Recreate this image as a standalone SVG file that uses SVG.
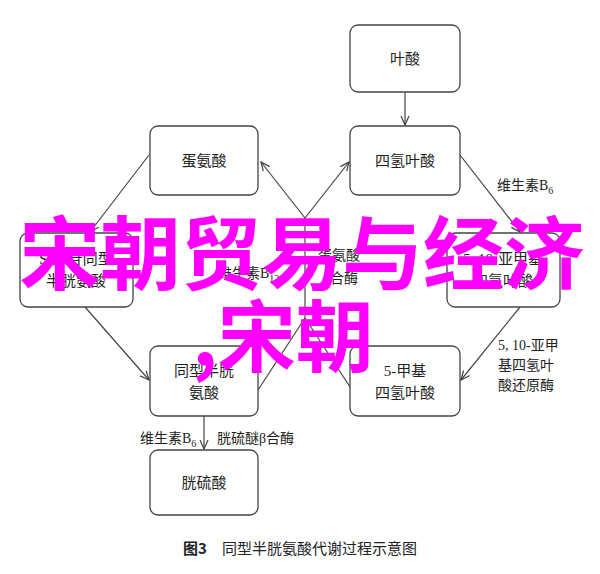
<svg xmlns="http://www.w3.org/2000/svg" width="600" height="574" viewBox="0 0 600 574">
<style>
.b{fill:#fff;stroke:#444;stroke-width:1.3}
.t{font-family:"Liberation Serif","Noto Sans CJK SC",serif;font-size:15px;fill:#222;text-anchor:middle}
.l{font-family:"Liberation Serif","Noto Sans CJK SC",serif;font-size:14px;fill:#222}
.c line,.c path{stroke:#444;stroke-width:1.2;fill:none}
.o{font-family:"Noto Sans CJK SC",sans-serif;font-weight:bold;fill:#ff00ff}
</style>
<defs><marker id="a" markerWidth="10" markerHeight="10" refX="9" refY="5" orient="auto" markerUnits="userSpaceOnUse"><path d="M0,1 L9,5 L0,9" fill="none" stroke="#444" stroke-width="1.2"/></marker></defs>
<rect width="600" height="574" fill="#fff"/>
<g class="c">
<line x1="405" y1="92" x2="405" y2="125" marker-end="url(#a)"/>
<line x1="460" y1="155" x2="520" y2="232" marker-end="url(#a)"/>
<line x1="520" y1="307" x2="461" y2="380" marker-end="url(#a)"/>
<line x1="149" y1="155" x2="90" y2="232" marker-end="url(#a)"/>
<line x1="85" y1="307" x2="149" y2="380" marker-end="url(#a)"/>
<line x1="204" y1="416" x2="204" y2="449" marker-end="url(#a)"/>
<line x1="305" y1="318" x2="305" y2="218"/>
<line x1="305" y1="218" x2="261" y2="162" marker-end="url(#a)"/>
<line x1="305" y1="218" x2="349" y2="162" marker-end="url(#a)"/>
<line x1="258" y1="390" x2="305" y2="318"/>
<line x1="352" y1="390" x2="305" y2="318"/>
</g>
<g id="n1"><rect class="b" x="350" y="25" width="110" height="67" rx="8"/><text class="t" x="405" y="64">叶酸</text></g>
<g id="n2"><rect class="b" x="150" y="126" width="108" height="69" rx="8"/><text class="t" x="204" y="166">蛋氨酸</text></g>
<g id="n3"><rect class="b" x="350" y="126" width="110" height="69" rx="8"/><text class="t" x="405" y="166">四氢叶酸</text></g>
<g id="n4"><rect class="b" x="20" y="233" width="113" height="74" rx="8"/><text class="t" x="76" y="264">S-腺苷同型</text><text class="t" x="76" y="286">半胱氨酸</text></g>
<g id="n5"><rect class="b" x="447" y="233" width="113" height="74" rx="8"/><text class="t" x="503" y="264">5, 10-亚甲基</text><text class="t" x="503" y="286">四氢叶酸</text></g>
<g id="n6"><rect class="b" x="150" y="346" width="108" height="70" rx="8"/><text class="t" x="204" y="376">同型半胱</text><text class="t" x="204" y="398">氨酸</text></g>
<g id="n7"><rect class="b" x="350" y="346" width="110" height="70" rx="8"/><text class="t" x="405" y="376">5-甲基</text><text class="t" x="405" y="398">四氢叶酸</text></g>
<g id="n8"><rect class="b" x="150" y="450" width="108" height="65" rx="8"/><text class="t" x="204" y="488">胱硫酸</text></g>
<text class="l" x="497" y="190">维生素B<tspan font-size="10" dy="4">6</tspan></text>
<text class="l" x="218" y="278">维生素B<tspan font-size="10" dy="4">12</tspan></text>
<text class="l" x="318" y="260">蛋氨酸</text><text class="l" x="330" y="283">合酶</text>
<text class="l" x="498" y="350">5, 10-亚甲</text><text class="l" x="498" y="370">基四氢叶</text><text class="l" x="498" y="390">酸还原酶</text>
<text class="l" x="140" y="443">维生素B<tspan font-size="10" dy="4">6</tspan></text>
<text class="l" x="217" y="443">胱硫醚β合酶</text>
<text x="300" y="554" style="font-family:'Noto Sans CJK SC',sans-serif;font-size:15px;fill:#222;text-anchor:middle"><tspan font-weight="bold">图3</tspan>　同型半胱氨酸代谢过程示意图</text>
<text class="o" x="302" y="283" font-size="80" text-anchor="middle" textLength="565" lengthAdjust="spacingAndGlyphs">宋朝贸易与经济</text>
<text class="o" x="283" y="366" font-size="78" text-anchor="middle">,宋朝</text>
</svg>
